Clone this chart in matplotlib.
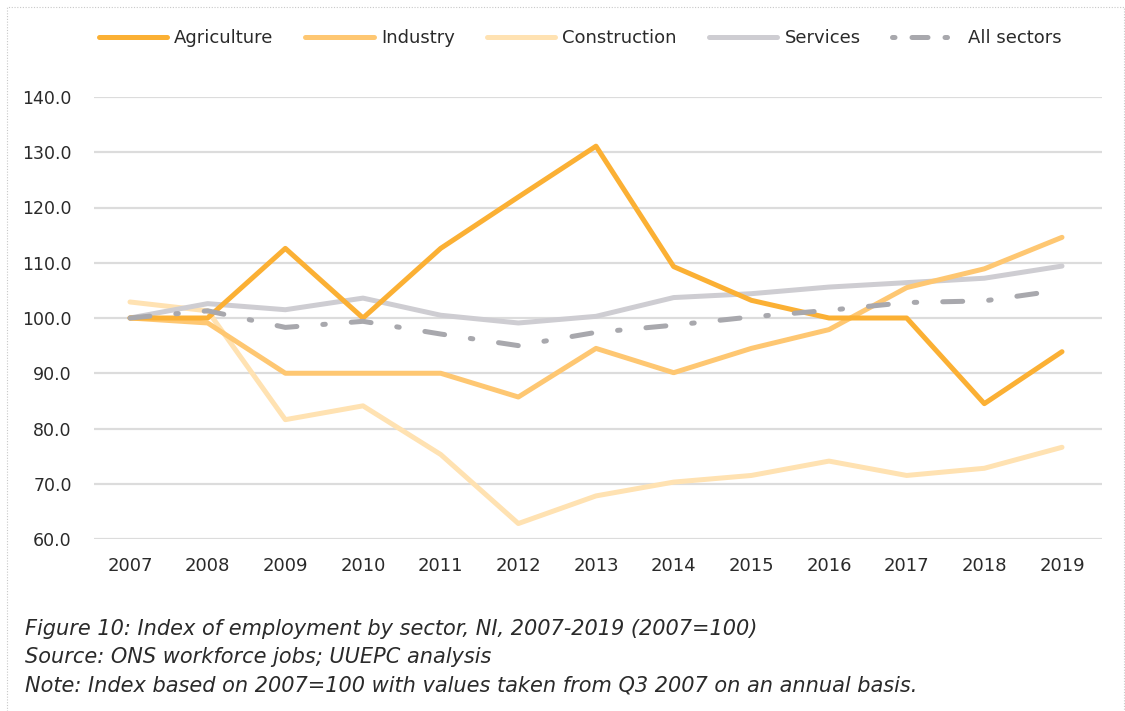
import matplotlib
matplotlib.use("Agg")
import matplotlib.pyplot as plt
from matplotlib.patches import Rectangle
from matplotlib.lines import Line2D

years = [2007, 2008, 2009, 2010, 2011, 2012, 2013, 2014, 2015, 2016, 2017, 2018, 2019]
agriculture = [100.0, 100.0, 112.6, 100.0, 112.6, 121.9, 131.1, 109.3, 103.2, 100.0, 100.0, 84.5, 93.9]
industry = [100.0, 99.1, 90.0, 90.0, 90.0, 85.7, 94.5, 90.1, 94.5, 97.9, 105.5, 108.9, 114.6]
construction = [102.9, 101.3, 81.6, 84.1, 75.3, 62.8, 67.8, 70.3, 71.5, 74.1, 71.5, 72.8, 76.6]
services = [100.0, 102.6, 101.5, 103.6, 100.5, 99.1, 100.3, 103.7, 104.4, 105.6, 106.4, 107.2, 109.4]
all_sectors = [100.0, 101.3, 98.3, 99.4, 97.1, 95.0, 97.4, 98.7, 100.2, 101.4, 102.8, 103.1, 105.1]
yticks = [60, 70, 80, 90, 100, 110, 120, 130, 140]
labels = ['Agriculture', 'Industry', 'Construction', 'Services', 'All sectors']
colors = ['#FBB034', '#FEC772', '#FFE2B2', '#CECDD2', '#A8A8AD']

plt.rcParams['font.family'] = ['DejaVu Sans']
text_color = '#2a2a2a'

fig = plt.figure(figsize=(11.25, 7.11), dpi=100)
ax = fig.add_axes([94/1125, 1-539/711, (1102-94)/1125, (539-97)/711])

lw = 3.6
pattern = (4, 5.2, 0.5, 5.2)
series = [agriculture, industry, construction, services]
zorders = [5, 4, 3, 3.5]
handles = []
for vals, lab, col, z in zip(series, labels[:4], colors[:4], zorders):
    ln, = ax.plot(years, vals, color=col, lw=lw, label=lab, solid_capstyle='round', zorder=z, clip_on=False)
    handles.append(ln)
ax.plot(years, all_sectors, color=colors[4], lw=lw, label=labels[4], linestyle=(0, pattern),
        dash_capstyle='round', zorder=6, clip_on=False)
handles.append(Line2D([], [], color=colors[4], lw=lw, linestyle=(0, (0.5, 3.4, 3.2, 3.4)), dash_capstyle='round'))

ax.set_xlim(2007 - 0.4635, 2019 + 0.515)
ax.set_ylim(60, 140)
ax.set_yticks(yticks)
ax.set_yticklabels([f"{v:.1f}" for v in yticks])
ax.set_xticks(years)
ax.set_xticklabels([str(y) for y in years])
ax.grid(axis='y', color='#dcdcdc', lw=1.6)
ax.set_axisbelow(True)
for s in ax.spines.values():
    s.set_visible(False)
ax.tick_params(axis='both', length=0, labelsize=12.5, colors=text_color)
ax.tick_params(axis='x', labelsize=13, pad=13)
ax.tick_params(axis='y', pad=16)

leg = fig.legend(handles, labels, loc='center', bbox_to_anchor=(0.5156, 1-38/711), ncol=5, frameon=False,
                 fontsize=13, handlelength=3.8, handletextpad=0.4, columnspacing=1.75)
for t in leg.get_texts():
    t.set_color(text_color)

captions = [
    "Figure 10: Index of employment by sector, NI, 2007-2019 (2007=100)",
    "Source: ONS workforce jobs; UUEPC analysis",
    "Note: Index based on 2007=100 with values taken from Q3 2007 on an annual basis.",
]
for i, c in enumerate(captions):
    fig.text(25/1125, 1-(629+28*i)/711, c, fontsize=15, style='italic', color=text_color, va='center', ha='left')

border = Rectangle((7/1125, -0.01), (1124-7)/1125, 1-7/711 + 0.01, transform=fig.transFigure,
                   fill=False, ec='#c8c8c8', lw=0.8, ls=(0, (1, 1.5)))
fig.patches.append(border)

fig.savefig('out.png', dpi=100)
